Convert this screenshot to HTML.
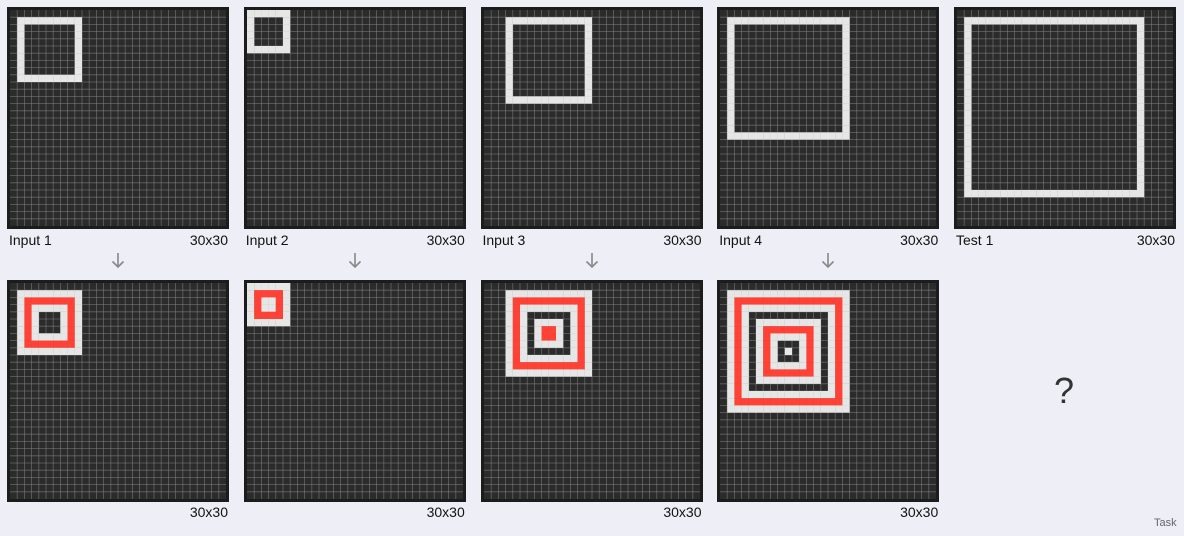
<!DOCTYPE html>
<html><head><meta charset="utf-8">
<style>
body{margin:0;background:#eeeef6;font-family:"Liberation Sans",sans-serif;}
#root{position:relative;width:1184px;height:536px;overflow:hidden;}
.lbl{position:absolute;font-size:14px;color:#111;}
svg{position:absolute;}
</style></head><body>
<div id="root">
<div class="lbl" style="left:1054px;top:370px;font-size:36px;color:#333">?</div>
<div class="lbl" style="left:1154px;top:517px;font-size:11px;color:#666">Task</div>
</div>
<script>
// data
const inLabels = ["Input 1","Input 2","Input 3","Input 4","Test 1"];
const sqRow = [1,0,1,1,1];
const sqCol = [1,0,3,1,1];
const sqSize = [9,6,12,17,25];
// output layer colours (outer → inner)
const outLayers = [
  ["w","r","w","k","k"],
  ["w","r","w"],
  ["w","r","w","k","w","r"],
  ["w","r","w","k","w","r","w","k","w"]
];
const COL={w:"#e6e6e6",r:"#ff4136",k:null};
const root=document.getElementById('root');
const NS="http://www.w3.org/2000/svg";
const CELL=7.2, N=30;
function panel(x,y,name,cellFn){
  const s=document.createElementNS(NS,'svg');
  s.setAttribute('width',222);s.setAttribute('height',222);
  s.style.left=x+'px';s.style.top=y+'px';
  
  
  let h='<rect x="0" y="0" width="222" height="222" fill="#1c1c1c"/><rect x="3" y="3" width="216" height="216" fill="#2b2b2b"/>';
  for(let i=1;i<N;i++){const p=3+i*CELL;h+=`<line x1="${p}" y1="3" x2="${p}" y2="219" stroke="#8a8a8a" stroke-opacity="0.6" stroke-width="0.8"/><line x1="3" y1="${p}" x2="219" y2="${p}" stroke="#8a8a8a" stroke-opacity="0.6" stroke-width="0.8"/>`;}
  for(let r=0;r<N;r++)for(let c=0;c<N;c++){const f=cellFn(r,c);if(f)h+=`<rect x="${3+c*CELL}" y="${3+r*CELL}" width="${CELL+0.05}" height="${CELL+0.05}" fill="${f}"/>`;}
  s.innerHTML=h;root.appendChild(s);
}
function lbl(x,y,t,name,right){
  const d=document.createElement('div');d.className='lbl';d.textContent=t;
  d.style.top=y+'px';
  if(right){d.style.left=(x-60)+'px';d.style.width='60px';d.style.textAlign='right';}else d.style.left=x+'px';
  
  
  root.appendChild(d);
}
for(let i=0;i<5;i++){
  const px=7+i*236.75;
  const R=sqRow[i],C=sqCol[i],S=sqSize[i];
  panel(px,7,'input-grid-'+(i+1),(r,c)=>{
    if(r<R||c<C||r>=R+S||c>=C+S)return null;
    const l=Math.min(r-R,c-C,R+S-1-r,C+S-1-c);
    return l===0?COL.w:null;
  });
  lbl(px+2,232,inLabels[i],'input-label-'+(i+1),false);
  lbl(px+221,232,'30x30','input-size-'+(i+1),true);
  if(i<4){
    const a=document.createElementNS(NS,'svg');
    a.setAttribute('width',16);a.setAttribute('height',20);
    a.style.left=(px+103)+'px';a.style.top='251px';
    a.innerHTML='<path d="M8 2 V16 M2.5 10.5 L8 16 L13.5 10.5" stroke="#888" stroke-width="1.6" fill="none"/>';
    
    
    root.appendChild(a);
    const L=outLayers[i];
    panel(px,280,'output-grid-'+(i+1),(r,c)=>{
      if(r<R||c<C||r>=R+S||c>=C+S)return null;
      const l=Math.min(r-R,c-C,R+S-1-r,C+S-1-c);
      return COL[L[Math.min(l,L.length-1)]];
    });
    lbl(px+221,504,'30x30','output-size-'+(i+1),true);
  }
}
</script>
</body></html>
